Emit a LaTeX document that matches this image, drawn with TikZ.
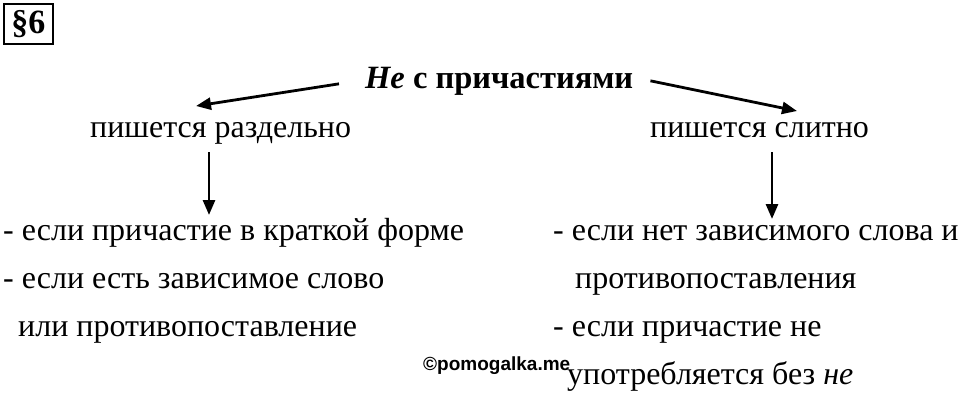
\documentclass[tikz,border=0pt]{standalone}
\usepackage{fontspec}
\setmainfont{Liberation Serif}
\newfontfamily\wmfont{Liberation Sans}
\usetikzlibrary{arrows.meta}
\begin{document}
\begin{tikzpicture}[x=1pt,y=-1pt,
  txt/.style={anchor=base west,inner sep=0pt,font=\fontsize{32}{32}\selectfont},
  arr/.style={line width=2.8pt,-{Triangle[length=15pt,width=12pt]}}]
\useasboundingbox (0,0) rectangle (960,400);
% section box
\node[draw,line width=2.8pt,inner sep=0pt,minimum width=49pt,minimum height=40pt,anchor=north west,
  font=\fontsize{34}{34}\selectfont\bfseries] (sec) at (2.5,2.5) {\S6};
% title
\node[txt,font=\fontsize{32.5}{32}\selectfont\bfseries] (title) at (365,88) {\textit{Не} с причастиями};
% headers
\node[txt] (sep) at (90,137) {пишется раздельно};
\node[txt] (joint) at (650,137) {пишется слитно};
% tips
\coordinate (tipL) at (196,106);
\coordinate (tipR) at (797,111);
\draw[arr] ([xshift=-26pt,yshift=-3pt]title.west) -- (tipL);
\draw[arr] ([xshift=17pt,yshift=0pt]title.east) -- (tipR);
% left list
\node[txt] (l1) at (3,240) {- если причастие в краткой форме};
\node[txt] (l2) at (3,288) {- если есть зависимое слово};
\node[txt] (l3) at (18,336) {или противопоставление};
% right list
\node[txt] (r1) at (553,240) {- если нет зависимого слова и};
\node[txt] (r2) at (575,288) {противопоставления};
\node[txt] (r3) at (553,336) {- если причастие не};
\node[txt] (r4) at (567,384) {употребляется без \textit{не}};
% down arrows
\coordinate (dL0) at (209,152);
\coordinate (dL1) at (209,215);
\coordinate (dR0) at (772,152);
\coordinate (dR1) at (772,219);
\draw[arr] (dL0) -- (dL1);
\draw[arr] (dR0) -- (dR1);
% watermark
\node[anchor=base west,inner sep=0pt,font=\wmfont\bfseries\fontsize{19}{19}\selectfont] (wm) at (423,370) {©pomogalka.me};
\end{tikzpicture}
\end{document}
